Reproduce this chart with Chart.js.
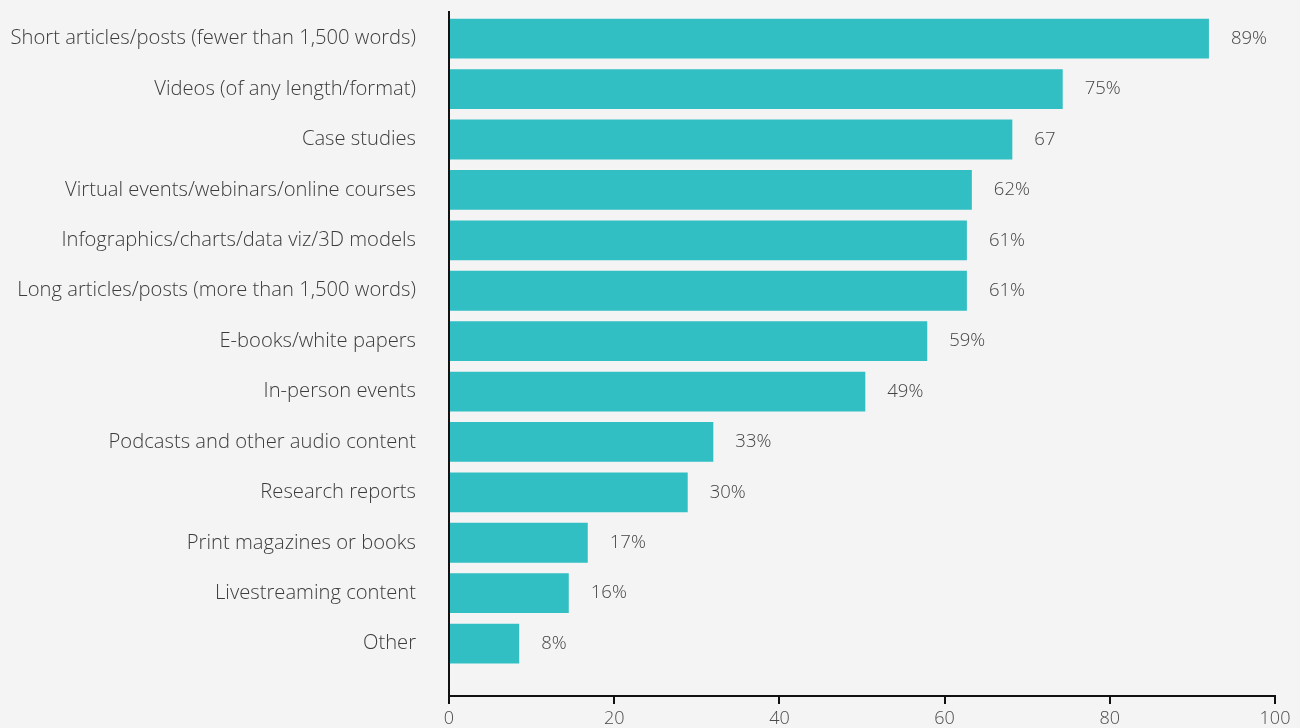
<!DOCTYPE html>
<html>
<head>
<meta charset="utf-8">
<script src="https://cdn.jsdelivr.net/npm/chart.js@4.4.1/dist/chart.umd.min.js"></script>
<style>
  html, body { margin: 0; padding: 0; background: #f4f4f4; }
  #wrap { width: 1300px; height: 728px; }
</style>
</head>
<body>
<div id="wrap"><canvas id="chart"></canvas></div>
<script>
const categories = [
  "Short articles/posts (fewer than 1,500 words)",
  "Videos (of any length/format)",
  "Case studies",
  "Virtual events/webinars/online courses",
  "Infographics/charts/data viz/3D models",
  "Long articles/posts (more than 1,500 words)",
  "E-books/white papers",
  "In-person events",
  "Podcasts and other audio content",
  "Research reports",
  "Print magazines or books",
  "Livestreaming content",
  "Other"
];
// bar lengths as drawn in the picture
const barValues = [92, 74.3, 68.2, 63.3, 62.7, 62.7, 57.9, 50.4, 32, 28.9, 16.8, 14.5, 8.5];
// labels printed next to the bars
const valueLabels = ["89%", "75%", "67", "62%", "61%", "61%", "59%", "49%", "33%", "30%", "17%", "16%", "8%"];
const xTicks = [0, 20, 40, 60, 80, 100];

const FONT = "'Open Sans', 'DejaVu Sans', sans-serif";

const barLabels = {
  id: "barLabels",
  afterDatasetsDraw(chart) {
    let ctx = chart.ctx;
    let meta = chart.getDatasetMeta(0);
    ctx.save();
    ctx.font = "300 18.5px " + FONT;
    ctx.fillStyle = "#444444";
    ctx.textAlign = "left";
    ctx.textBaseline = "middle";
    meta.data.forEach((bar, i) => {
      ctx.fillText(valueLabels[i], bar.x + 22, bar.y);
    });
    ctx.restore();
  }
};

new Chart(document.getElementById("chart"), {
  type: "bar",
  data: {
    datasets: [
      {
        data: barValues.map((v, i) => ({ x: v, y: i })),
        backgroundColor: "#31bfc4",
        borderWidth: 0,
        barPercentage: 1,
        categoryPercentage: 0.79
      }
    ]
  },
  options: {
    indexAxis: "y",
    responsive: true,
    maintainAspectRatio: false,
    animation: false,
    layout: { padding: { top: 12, right: 25, bottom: 0, left: 0 } },
    plugins: {
      legend: { display: false },
      tooltip: { enabled: false }
    },
    scales: {
      x: {
        type: "linear",
        min: 0,
        max: 100,
        afterBuildTicks: (s) => { s.ticks = xTicks.map((v) => ({ value: v })); },
        afterFit: (s) => { s.height = 32; },
        grid: {
          display: true,
          drawOnChartArea: false,
          drawTicks: true,
          tickLength: 8,
          color: "#111111",
          lineWidth: 2
        },
        border: { display: true, color: "#111111", width: 2 },
        ticks: {
          color: "#4a4a4a",
          padding: 4,
          maxRotation: 0,
          font: { family: FONT, size: 18, weight: "300" }
        }
      },
      y: {
        type: "linear",
        reverse: true,
        offset: false,
        min: -0.53,
        max: 13.04,
        afterBuildTicks: (s) => { s.ticks = categories.map((c, i) => ({ value: i })); },
        afterFit: (s) => { s.width = 449; s.paddingTop = 0; s.paddingBottom = 0; },
        grid: { display: false, drawTicks: false, offset: false },
        border: { display: true, color: "#111111", width: 2 },
        ticks: {
          color: "#3c3c3c",
          padding: 33,
          autoSkip: false,
          font: { family: FONT, size: 20.2, weight: "300" },
          callback: (v) => categories[v] || ""
        }
      }
    }
  },
  plugins: [barLabels]
});
</script>
</body>
</html>
